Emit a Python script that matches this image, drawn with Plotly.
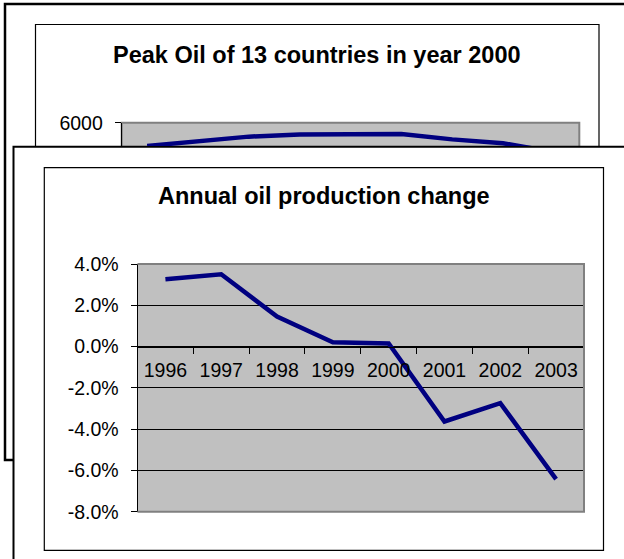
import plotly.graph_objects as go

W, H = 624, 559

# Annual oil production change (percent)
change_years = ["1996", "1997", "1998", "1999", "2000", "2001", "2002", "2003"]
change_pct = [3.26, 3.50, 1.45, 0.21, 0.15, -3.63, -2.74, -6.42]
change_tickvals = [4, 2, 0, -2, -4, -6, -8]
change_ticktext = ["4.0%", "2.0%", "0.0%", "-2.0%", "-4.0%", "-6.0%", "-8.0%"]

# Oil production of the 13 countries (only the top of this chart is exposed)
peak_years = ["1995", "1996", "1997", "1998", "1999", "2000", "2001", "2002", "2003"]
peak_output = [5120, 5287, 5472, 5551, 5562, 5570, 5368, 5221, 4886]
peak_tickvals = [6000]
peak_ticktext = ["6000"]

FONT = "Liberation Sans, Arial, sans-serif"
NAVY = "#000080"
PLOT_GREY = "#C0C0C0"
BORDER_GREY = "#808080"


def px(x):
    return x / W


def py(y):
    return 1 - y / H


# pixel geometry of the two chart boxes
back_plot = dict(left=121.7, right=579.3, top=122.7, zero=281.0, cut=146.0)
front_plot = dict(left=137.5, right=584.0, top=264.0, bottom=511.7)

fig = go.Figure()

fig.add_trace(go.Scatter(
    x=peak_years, y=peak_output, mode="lines",
    line=dict(color=NAVY, width=4.5), xaxis="x", yaxis="y",
    showlegend=False, hoverinfo="skip",
))
fig.add_trace(go.Scatter(
    x=change_years, y=change_pct, mode="lines",
    line=dict(color=NAVY, width=4.5), xaxis="x2", yaxis="y2",
    showlegend=False, hoverinfo="skip",
))

# visible part of the rear chart's value axis
peak_top = peak_tickvals[0]
peak_low = peak_top * (1 - (back_plot["cut"] - back_plot["top"]) /
                       (back_plot["zero"] - back_plot["top"]))

fy0, fy1 = py(front_plot["bottom"]), py(front_plot["top"])
c_lo, c_hi = change_tickvals[-1], change_tickvals[0]
zero_pos = fy0 + (0 - c_lo) / (c_hi - c_lo) * (fy1 - fy0)

tick_font = dict(family=FONT, size=19.5, color="black")

shapes = []


def rect(x0, y0, x1, y1, line_color="black", width=1, fill="white", layer="below"):
    shapes.append(dict(
        type="rect", xref="paper", yref="paper",
        x0=px(x0), x1=px(x1), y0=py(y1), y1=py(y0),
        line=dict(color=line_color, width=width), fillcolor=fill, layer=layer,
    ))


def seg(x0, y0, x1, y1, color, width, layer="above"):
    shapes.append(dict(
        type="line", xref="paper", yref="paper",
        x0=px(x0), x1=px(x1), y0=py(y0), y1=py(y1),
        line=dict(color=color, width=width), layer=layer,
    ))


# rear chart: outer frame, chart area, plot area
rect(5, 4, 700, 460, width=2.5)
rect(35.5, 24.5, 599, 450, width=1.2)
rect(back_plot["left"], back_plot["top"], back_plot["right"], 300,
     line_color=BORDER_GREY, width=2, fill=PLOT_GREY)

# front chart: outer frame, chart area, plot area
rect(13.5, 146.7, 700, 620, width=2)
rect(44.3, 167.7, 603.5, 550.3, width=1.2)
rect(front_plot["left"], front_plot["top"], front_plot["right"], front_plot["bottom"],
     line_color=BORDER_GREY, width=0, fill=PLOT_GREY)
# grey plot-area border of the front chart (top, right, bottom)
seg(front_plot["left"], front_plot["top"], front_plot["right"] + 1, front_plot["top"], BORDER_GREY, 2)
seg(front_plot["right"], front_plot["top"], front_plot["right"], front_plot["bottom"], BORDER_GREY, 2)
seg(front_plot["left"], front_plot["bottom"], front_plot["right"] + 1, front_plot["bottom"], BORDER_GREY, 2)

annotations = [
    dict(text="<b>Peak Oil of 13 countries in year 2000</b>", xref="paper", yref="paper",
         x=px(317), y=py(55), xanchor="center", yanchor="middle", showarrow=False,
         font=dict(family=FONT, size=23.5, color="black")),
    dict(text="<b>Annual oil production change</b>", xref="paper", yref="paper",
         x=px(324), y=py(196), xanchor="center", yanchor="middle", showarrow=False,
         font=dict(family=FONT, size=23.5, color="black")),
]

fig.update_layout(
    width=W, height=H, autosize=False,
    margin=dict(l=0, r=0, t=0, b=0, pad=0, autoexpand=False),
    paper_bgcolor="white", plot_bgcolor="rgba(0,0,0,0)",
    showlegend=False,
    shapes=shapes, annotations=annotations,
    xaxis=dict(domain=[px(back_plot["left"]), px(back_plot["right"])],
               type="category", range=[-0.5, len(peak_years) - 0.5],
               visible=False, fixedrange=True, automargin=False),
    yaxis=dict(domain=[py(back_plot["cut"]), py(back_plot["top"])],
               range=[peak_low, peak_top], anchor="x",
               tickvals=peak_tickvals, ticktext=peak_ticktext,
               ticks="outside", ticklen=6, tickcolor="black", tickwidth=1,
               showline=True, linecolor="black", linewidth=1,
               showgrid=False, zeroline=False, tickfont=tick_font,
               ticklabelstandoff=8, fixedrange=True, automargin=False),
    xaxis2=dict(domain=[px(front_plot["left"]), px(front_plot["right"])],
                type="category", range=[-0.5, len(change_years) - 0.5],
                anchor="free", position=zero_pos,
                tickson="boundaries", ticks="outside", ticklen=6,
                tickcolor="black", tickwidth=1,
                showline=True, linecolor="black", linewidth=1,
                showgrid=False, zeroline=False, tickfont=tick_font,
                ticklabelstandoff=6, fixedrange=True, automargin=False),
    yaxis2=dict(domain=[fy0, fy1], range=[c_lo, c_hi], anchor="x2",
                tickvals=change_tickvals, ticktext=change_ticktext,
                ticks="outside", ticklen=6, tickcolor="black", tickwidth=1,
                showline=True, linecolor="black", linewidth=1,
                showgrid=True, gridcolor="black", gridwidth=1,
                zeroline=False, tickfont=tick_font,
                ticklabelstandoff=8, fixedrange=True, automargin=False),
)

fig.write_html("out.html", config=dict(displayModeBar=False, staticPlot=True))
